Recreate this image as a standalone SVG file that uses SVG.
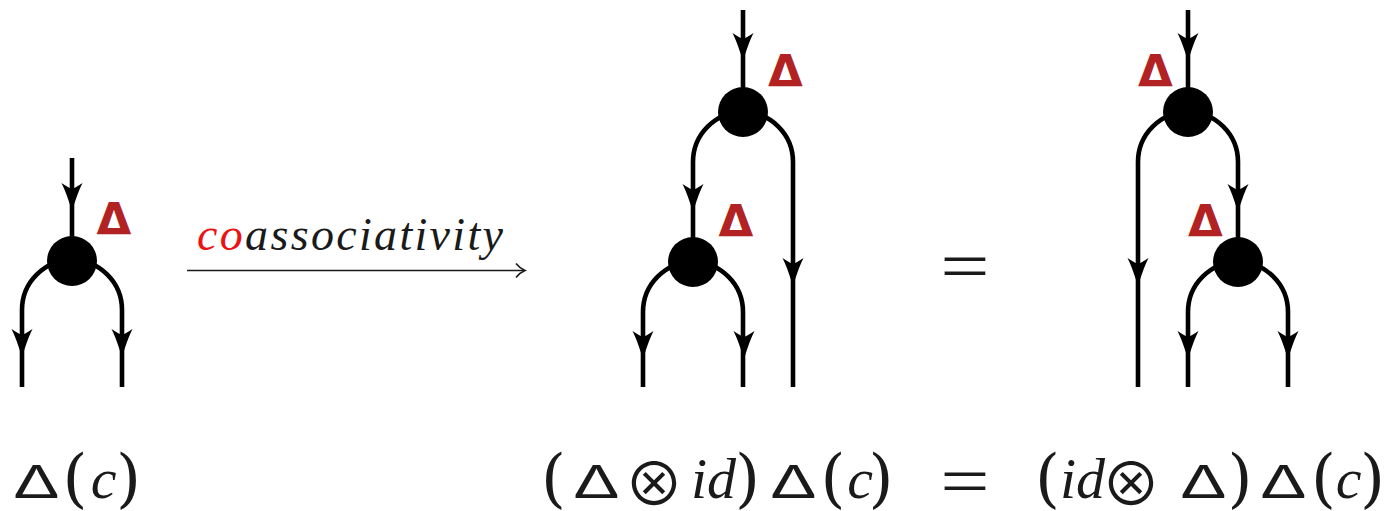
<svg xmlns="http://www.w3.org/2000/svg" xmlns:xlink="http://www.w3.org/1999/xlink" width="1391" height="511" viewBox="0 0 1391 511">
<defs>
<style>
.wire{fill:none;stroke:#000;stroke-width:4.6}
.node{fill:#000}
.lbl{font-family:"DejaVu Sans",sans-serif;font-weight:bold;font-size:45px;fill:#b22222;text-anchor:middle}
.it{font-family:"Liberation Serif",serif;font-style:italic;font-size:58px;fill:#1a1a1a;text-anchor:middle}
.par{font-family:"DejaVu Serif",serif;font-size:64px;fill:#1a1a1a;text-anchor:middle}
.dl{font-family:"Liberation Sans",sans-serif;font-size:49px;fill:#1a1a1a;text-anchor:middle}
.ot{font-family:"Noto Sans CJK JP","DejaVu Sans",sans-serif;font-size:60px;fill:#1a1a1a;text-anchor:middle}
.eq{font-family:"Liberation Serif",serif;font-size:70px;fill:#1a1a1a;text-anchor:middle}
</style>
<path id="ah" d="M0,0 C-2,-8 -6,-20 -10.5,-29 Q-3,-24 0,-23 Q3,-24 10.5,-29 C6,-20 2,-8 0,0 Z" fill="#000"/>
</defs>

<g id="connectors">
<path class="wire" d="M72,158 V261"/>
<path class="wire" d="M22,387 V310 A50,50 0 0 1 122,310 V387"/>
<path class="wire" d="M743,10 V112"/>
<path class="wire" d="M693,262 V162 A50,50 0 0 1 793,162 V387"/>
<path class="wire" d="M643,387 V312 A50,50 0 0 1 743,312 V387"/>
<path class="wire" d="M1188,10 V112"/>
<path class="wire" d="M1138,387 V162 A50,50 0 0 1 1238,162 V262"/>
<path class="wire" d="M1188,387 V312 A50,50 0 0 1 1288,312 V387"/>
<use xlink:href="#ah" x="72" y="212"/>
<use xlink:href="#ah" x="22" y="358"/>
<use xlink:href="#ah" x="122" y="358"/>
<use xlink:href="#ah" x="743" y="62"/>
<use xlink:href="#ah" x="693" y="213"/>
<use xlink:href="#ah" x="793" y="287"/>
<use xlink:href="#ah" x="643" y="360"/>
<use xlink:href="#ah" x="744" y="360"/>
<use xlink:href="#ah" x="1188" y="62"/>
<use xlink:href="#ah" x="1138" y="287"/>
<use xlink:href="#ah" x="1238" y="213"/>
<use xlink:href="#ah" x="1188" y="360"/>
<use xlink:href="#ah" x="1288" y="360"/>
<path d="M187,270.5 H524" fill="none" stroke="#1a1a1a" stroke-width="1.6"/>
<path d="M516,263.5 Q520,268.5 525,270.5 Q520,272.5 516,277.5" fill="none" stroke="#1a1a1a" stroke-width="1.6"/>
</g>

<g id="node-left">
<circle class="node" cx="72" cy="261" r="25"/>
<text class="lbl" x="114" y="235">Δ</text>
</g>
<g id="node-mid-top">
<circle class="node" cx="743" cy="112" r="25"/>
<text class="lbl" x="785.5" y="87">Δ</text>
</g>
<g id="node-mid-bottom">
<circle class="node" cx="693" cy="262" r="25"/>
<text class="lbl" x="736" y="237">Δ</text>
</g>
<g id="node-right-top">
<circle class="node" cx="1188" cy="112" r="25"/>
<text class="lbl" x="1155.5" y="87">Δ</text>
</g>
<g id="node-right-bottom">
<circle class="node" cx="1238" cy="262" r="25"/>
<text class="lbl" x="1205.5" y="237">Δ</text>
</g>

<g id="arrow-label">
<text x="197" y="250" font-family="Liberation Serif, serif" font-style="italic" font-size="46" fill="#1a1a1a" textLength="306" lengthAdjust="spacing"><tspan fill="#ee1111">co</tspan>associativity</text>
</g>

<g id="equals-top">
<text class="eq" transform="translate(965,290) scale(1.25,1)">=</text>
</g>

<g id="expr-left">
<text class="dl" transform="translate(36.5,498) scale(1.4,1)">Δ</text>
<text class="par" x="75" y="500">(</text>
<text class="it" x="103.5" y="498">c</text>
<text class="par" x="128.5" y="500">)</text>
</g>

<g id="expr-right">
<text class="par" x="553.5" y="500">(</text>
<text class="dl" transform="translate(596.5,498) scale(1.4,1)">Δ</text>
<text class="ot" x="654" y="506">⊗</text>
<text class="it" x="713.5" y="498">id</text>
<text class="par" x="747.5" y="500">)</text>
<text class="dl" transform="translate(793.5,498) scale(1.4,1)">Δ</text>
<text class="par" x="833" y="500">(</text>
<text class="it" x="860" y="498">c</text>
<text class="par" x="881" y="500">)</text>
<text class="eq" transform="translate(965,504.5) scale(1.25,1)">=</text>
<text class="par" x="1047.5" y="500">(</text>
<text class="it" x="1082.5" y="498">id</text>
<text class="ot" x="1131" y="506">⊗</text>
<text class="dl" transform="translate(1203.5,498) scale(1.4,1)">Δ</text>
<text class="par" x="1240" y="500">)</text>
<text class="dl" transform="translate(1283.5,498) scale(1.4,1)">Δ</text>
<text class="par" x="1323.5" y="500">(</text>
<text class="it" x="1348.5" y="498">c</text>
<text class="par" x="1372.5" y="500">)</text>
</g>
</svg>
